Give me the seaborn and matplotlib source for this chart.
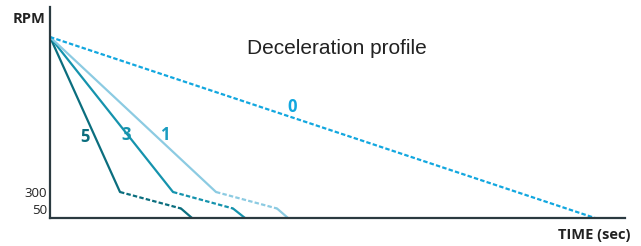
import matplotlib
matplotlib.use("Agg")
import matplotlib.pyplot as plt
import seaborn as sns
import pandas as pd

sns.set_style("white")
plt.rcParams['font.family'] = ['Open Sans', 'DejaVu Sans']

# schematic data (time in arbitrary units, RPM as display level)
profiles = ["5", "3", "1"]
t_fast_end = [70, 123, 166]      # end of fast deceleration (reaches 300 rpm)
t_slow_end = [131, 183, 227]     # end of slow deceleration (reaches 50 rpm)
t_stop = [142, 195, 238]         # stop
t_stop0 = 545                    # profile 0 stop
level_start = 181
level_300 = 26
level_50 = 9.5
ytick_levels = [level_300, level_50]
ytick_labels = ["300", "50"]
line_colors = ["#0b6e7e", "#1593ad", "#8ccbe2"]
label_colors = ["#0b6e7e", "#1593ad", "#1a9cc0"]
color0 = "#12a7df"
label_pos = [(35, 81), (76, 83), (115, 83)]

fig = plt.figure(figsize=(6.41, 2.46), dpi=100)
ax = fig.add_axes([50/641, 28/246, 575/641, 211/246])

for i, p in enumerate(profiles):
    c = line_colors[i]
    seg1 = pd.DataFrame({"t": [0, t_fast_end[i]], "rpm": [level_start, level_300]})
    seg2 = pd.DataFrame({"t": [t_fast_end[i], t_slow_end[i]], "rpm": [level_300, level_50]})
    seg3 = pd.DataFrame({"t": [t_slow_end[i], t_stop[i]], "rpm": [level_50, 0]})
    sns.lineplot(data=seg1, x="t", y="rpm", ax=ax, color=c, lw=1.6, sort=False)
    sns.lineplot(data=seg2, x="t", y="rpm", ax=ax, color=c, lw=1.6, sort=False,
                 linestyle=(0, (2, 1)))
    sns.lineplot(data=seg3, x="t", y="rpm", ax=ax, color=c, lw=1.6, sort=False)
    ax.text(label_pos[i][0], label_pos[i][1], p, color=label_colors[i],
            fontsize=12, fontweight="bold", ha="center", va="center")

seg0 = pd.DataFrame({"t": [0, t_stop0], "rpm": [level_start, 0]})
sns.lineplot(data=seg0, x="t", y="rpm", ax=ax, color=color0, lw=1.6, sort=False,
             linestyle=(0, (2, 1)))
ax.text(242, 111, "0", color=color0, fontsize=12, fontweight="bold",
        ha="center", va="center")

ax.set_xlim(0, 575)
ax.set_ylim(0, 211)
ax.set_xticks([])
ax.set_yticks(ytick_levels)
ax.set_yticklabels(ytick_labels, fontsize=9.5, color="#222222")
ax.tick_params(axis="y", length=0, pad=2)
ax.set_xlabel("")
ax.set_ylabel("")
for s in ["top", "right"]:
    ax.spines[s].set_visible(False)
for s in ["left", "bottom"]:
    ax.spines[s].set_color("#2b3a40")
    ax.spines[s].set_linewidth(1.6)

fig.text(29/641, 1 - 19/246, "RPM", fontsize=10.5, fontweight="bold",
         color="#222222", ha="center", va="center")
fig.text(594/641, 1 - 235/246, "TIME (sec)", fontsize=10.5, fontweight="bold",
         color="#222222", ha="center", va="center")
fig.text(337/641, 1 - 48/246, "Deceleration profile", fontsize=15,
         color="#222222", ha="center", va="center", family="Liberation Sans")

fig.savefig("out.png", dpi=100)
